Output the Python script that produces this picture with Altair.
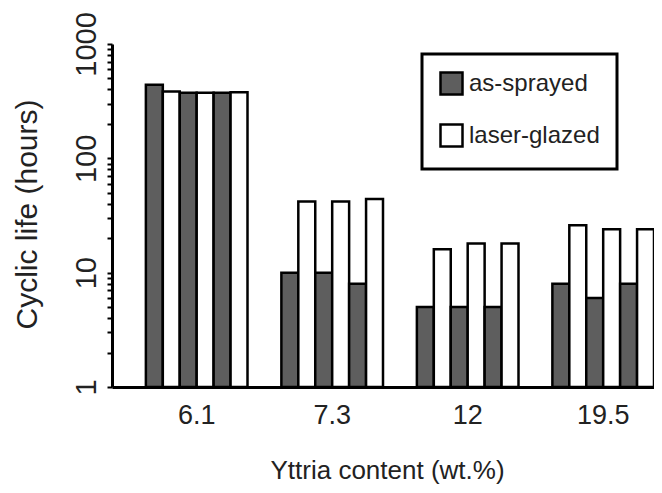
import altair as alt
import pandas as pd

groups = ["6.1", "7.3", "12", "19.5"]
series = ["as-sprayed", "laser-glazed"]
as_sprayed = [[440, 375, 375], [10, 10, 8], [5, 5, 5], [8, 6, 8]]
laser_glazed = [[385, 375, 378], [42, 42, 44], [16, 18, 18], [26, 24, 24]]
y_ticks = [1, 2, 3, 4, 5, 6, 7, 8, 9,
           10, 20, 30, 40, 50, 60, 70, 80, 90,
           100, 200, 300, 400, 500, 600, 700, 800, 900, 1000]

rows = []
for g, a_vals, l_vals in zip(groups, as_sprayed, laser_glazed):
    for k in range(3):
        rows.append({"group": g, "idx": 2 * k, "series": series[0], "value": a_vals[k]})
        rows.append({"group": g, "idx": 2 * k + 1, "series": series[1], "value": l_vals[k]})
df = pd.DataFrame(rows)

FONT = "Liberation Sans"
TXT = "#222222"
PLOT_W = 542
PLOT_H = 343

chart = alt.Chart(df).mark_bar(stroke="black", strokeWidth=2.5).encode(
    x=alt.X("group:N", sort=groups,
            scale=alt.Scale(paddingInner=0.25, paddingOuter=0.125, align=1),
            axis=alt.Axis(title="Yttria content (wt.%)", labelAngle=0, ticks=False, tickSize=0,
                          labelPadding=15, labelFontSize=27, labelFont=FONT, labelColor=TXT,
                          domainColor="black", domainWidth=3,
                          titleFont=FONT, titleFontSize=26, titleFontWeight="normal", titleColor=TXT,
                          titleBaseline="alphabetic", titleX=275, titleY=91, titleAlign="center")),
    xOffset=alt.XOffset("idx:O", scale=alt.Scale(paddingInner=0, paddingOuter=0)),
    y=alt.Y("value:Q", stack=None,
            scale=alt.Scale(type="log", domain=[1, 1000], nice=False),
            axis=alt.Axis(title="Cyclic life (hours)", values=y_ticks, format="d",
                          labelExpr="(datum.value == 1 || datum.value == 10 || datum.value == 100 || datum.value == 1000) ? datum.label : ''",
                          labelAngle=270, labelAlign="center", labelBaseline="alphabetic",
                          labelPadding=12, tickSize=5, tickWidth=2, tickColor="black",
                          labelOverlap=False, labelFlush=False, labelBound=False,
                          labelFontSize=29, labelFont=FONT, labelColor=TXT,
                          grid=False, domainColor="black", domainWidth=3,
                          titleFont=FONT, titleFontSize=30, titleFontWeight="normal", titleColor=TXT,
                          titleAngle=270, titleBaseline="alphabetic", titleAlign="center",
                          titleX=-76, titleY=170)),
    y2=alt.value(PLOT_H),
    color=alt.Color("series:N",
                    scale=alt.Scale(domain=series, range=["#5e5e5e", "#ffffff"]),
                    legend=alt.Legend(title=None, orient="none", legendX=310, legendY=10,
                                      strokeColor="black", padding=17,
                                      symbolType="square", symbolSize=484,
                                      symbolStrokeColor="black", symbolStrokeWidth=2.5,
                                      labelFontSize=24, labelFont=FONT, labelColor=TXT,
                                      labelOffset=5, rowPadding=19)),
).properties(
    width=PLOT_W,
    height=PLOT_H,
    padding={"left": 104, "top": 36, "right": 0, "bottom": 98},
    autosize="none",
).configure_view(stroke="transparent").configure_legend(strokeWidth=3)

chart.save("out.html", embed_options={"renderer": "svg", "actions": False})
